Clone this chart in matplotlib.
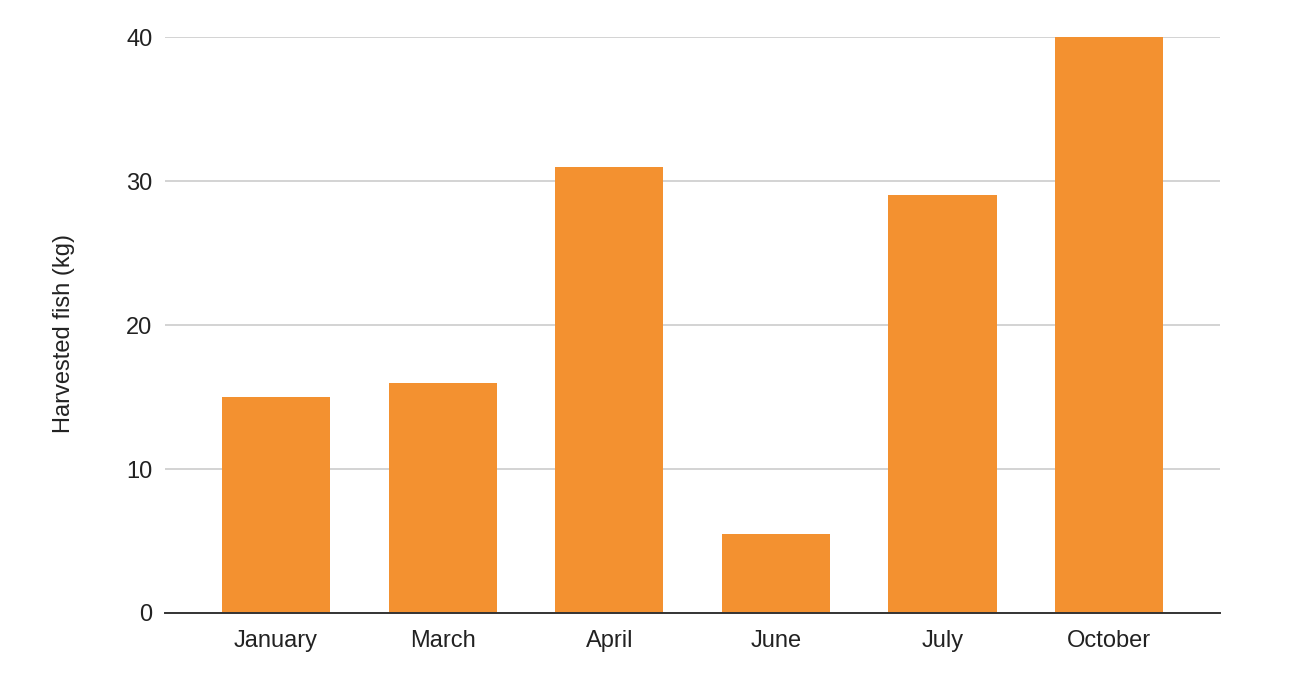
import matplotlib

matplotlib.use("Agg")
import matplotlib.pyplot as plt

months = ["January", "March", "April", "June", "July", "October"]
harvested_kg = [15, 16, 31, 5.5, 29, 40]
y_ticks = [0, 10, 20, 30, 40]

BAR_COLOR = "#F39130"

plt.rcParams["font.family"] = ["Liberation Sans", "DejaVu Sans"]

fig = plt.figure(figsize=(12.96, 7.0), dpi=100)
ax = fig.add_axes([0.1273, 0.1243, 0.8141, 0.8227])

positions = list(range(len(months)))
ax.bar(positions, harvested_kg, width=0.65, color=BAR_COLOR, zorder=3)

ax.set_xlim(-0.667, len(months) - 1 + 0.667)
ax.set_ylim(0, 40)
ax.set_yticks(y_ticks)
ax.set_xticks(positions)
ax.set_xticklabels(months)
ax.tick_params(axis="both", length=0, labelsize=17, colors="#222222")
ax.tick_params(axis="y", pad=9)
ax.tick_params(axis="x", pad=12)

ax.grid(axis="y", color="#cccccc", linewidth=1.2, zorder=0)
for side in ("top", "right", "left"):
    ax.spines[side].set_visible(False)
ax.spines["bottom"].set_color("#333333")
ax.spines["bottom"].set_linewidth(1.4)
ax.spines["bottom"].set_zorder(4)

ax.set_ylabel("Harvested fish (kg)", fontsize=17, color="#222222")
ax.yaxis.set_label_coords(-0.085, 0.485)

fig.savefig("out.png", dpi=100)
